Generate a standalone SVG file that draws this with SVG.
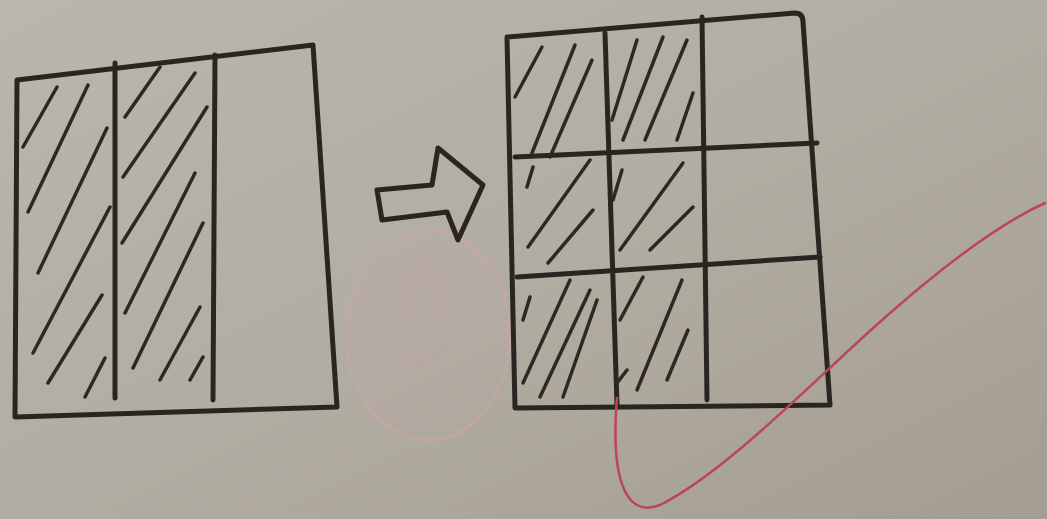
<svg xmlns="http://www.w3.org/2000/svg" width="1047" height="519" viewBox="0 0 1047 519">
  <defs>
    <linearGradient id="paper" x1="0" y1="0" x2="1" y2="1">
      <stop offset="0" stop-color="#bbb6ab"/>
      <stop offset="0.5" stop-color="#b2ada2"/>
      <stop offset="1" stop-color="#a49d91"/>
    </linearGradient>
    <style>
      .ink { fill: none; stroke: #2b2521; stroke-width: 5; stroke-linecap: round; stroke-linejoin: round; }
      .hatch { fill: none; stroke: #2e2824; stroke-width: 3.5; stroke-linecap: round; }
      .pink { fill: #c4a9a8; fill-opacity: 0.18; stroke: #c9a7a8; stroke-width: 3; stroke-opacity: 0.6; }
      .pinkmark { fill: none; stroke: #c2a2a3; stroke-width: 5; opacity: 0.3; stroke-linecap: round; }
      .red { fill: none; stroke: #bb4656; stroke-width: 2.5; stroke-linecap: round; }
    </style>
  </defs>
  <rect x="0" y="0" width="1047" height="519" fill="url(#paper)"/>

  <g id="stamp">
    <ellipse class="pink" cx="428" cy="335" rx="82" ry="105"/>
    <path class="pinkmark" d="M 402 270 L 405 370 M 405 272 C 440 262, 455 290, 428 310 C 460 315, 462 355, 412 365"/>
  </g>

  <g id="left-box">
    <path class="ink" d="M 17 80 L 313 45 L 337 407 L 15 417 Z"/>
    <path class="ink" d="M 115 63 L 115 398"/>
    <path class="ink" d="M 215 55 L 213 400"/>
    <path class="hatch" d="M 23 147 L 57 87 M 28 212 L 88 85 M 38 273 L 107 128 M 33 353 L 110 207 M 48 383 L 102 295 M 85 397 L 105 358"/>
    <path class="hatch" d="M 125 117 L 160 67 M 123 177 L 195 73 M 122 243 L 207 107 M 125 313 L 195 173 M 133 368 L 203 223 M 160 380 L 200 307 M 190 380 L 203 357"/>
  </g>

  <g id="arrow">
    <polygon class="ink" points="377,190 432,185 438,148 483,185 458,240 447,212 382,220"/>
  </g>

  <g id="right-grid">
    <path class="ink" d="M 507 37 L 795 13 Q 803 13 803 22 L 830 405 L 515 408 Z"/>
    <path class="ink" d="M 605 33 L 617 405"/>
    <path class="ink" d="M 702 17 L 707 400"/>
    <path class="ink" d="M 515 157 L 817 143"/>
    <path class="ink" d="M 517 277 L 820 257"/>
    <path class="hatch" d="M 515 97 L 542 47 M 532 153 L 575 45 M 550 157 L 592 60"/>
    <path class="hatch" d="M 612 120 L 637 40 M 623 140 L 663 37 M 645 140 L 687 40 M 677 140 L 693 93"/>
    <path class="hatch" d="M 527 187 L 533 167 M 528 247 L 590 160 M 548 263 L 593 210"/>
    <path class="hatch" d="M 613 200 L 622 170 M 620 250 L 683 163 M 650 250 L 693 207"/>
    <path class="hatch" d="M 523 320 L 530 297 M 523 383 L 570 280 M 540 397 L 590 290 M 563 397 L 597 300"/>
    <path class="hatch" d="M 620 320 L 643 277 M 637 390 L 682 280 M 667 380 L 688 330 M 617 383 L 627 370"/>
  </g>

  <g id="check-mark">
    <path class="red" d="M 617 398 C 611 470, 622 520, 660 505 C 720 475, 800 395, 860 340 C 920 285, 990 228, 1045 203"/>
  </g>
</svg>
